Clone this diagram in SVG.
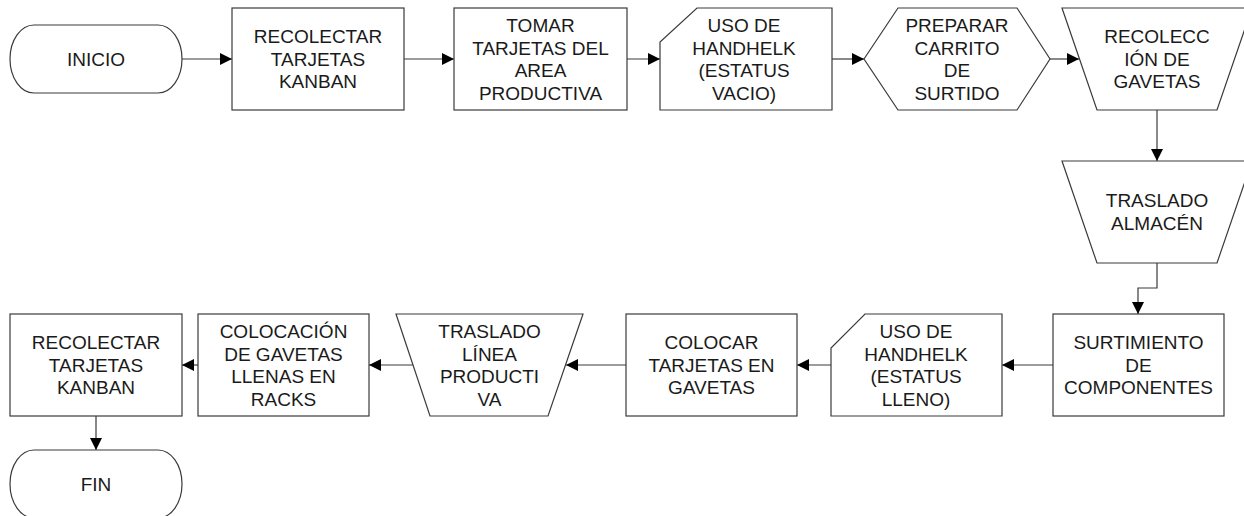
<svg xmlns="http://www.w3.org/2000/svg" width="1244" height="516" viewBox="0 0 1244 516">
<style>
.s{fill:#ffffff;stroke:#3a3a3a;stroke-width:1.2}
.c{fill:none;stroke:#3a3a3a;stroke-width:1.2}
.t{font-family:"Liberation Sans",Arial,sans-serif;font-size:19px;fill:#1a1a1a;text-anchor:middle}
</style>
<defs>
<marker id="ah" markerUnits="userSpaceOnUse" markerWidth="12" markerHeight="12" refX="12" refY="6" orient="auto">
<path d="M0,0 L12,6 L0,12 z" fill="#000"/>
</marker>
</defs>
<rect width="1244" height="516" fill="#ffffff"/>
<g id="connectors">
<path class="c" marker-end="url(#ah)" d="M182,59 H232"/>
<path class="c" marker-end="url(#ah)" d="M404,59 H454"/>
<path class="c" marker-end="url(#ah)" d="M627,59 H660"/>
<path class="c" marker-end="url(#ah)" d="M832,59 H864"/>
<path class="c" marker-end="url(#ah)" d="M1050,59 H1079"/>
<path class="c" marker-end="url(#ah)" d="M1157,110 V161"/>
<path class="c" marker-end="url(#ah)" d="M1157,263 V288 H1138 V314"/>
<path class="c" marker-end="url(#ah)" d="M1053,365 H1002"/>
<path class="c" marker-end="url(#ah)" d="M831,365 H797"/>
<path class="c" marker-end="url(#ah)" d="M626,365 H566"/>
<path class="c" marker-end="url(#ah)" d="M413,365 H369"/>
<path class="c" marker-end="url(#ah)" d="M198,365 H182"/>
<path class="c" marker-end="url(#ah)" d="M96,416 V450"/>
</g>
<g id="inicio">
<rect class="s" x="10" y="25" width="172" height="68" rx="24" ry="34"/>
<text class="t"><tspan x="96" y="65.8">INICIO</tspan></text>
</g>
<g id="recolectar1">
<rect class="s" x="232" y="8" width="172" height="102"/>
<text class="t"><tspan x="318" y="43.3">RECOLECTAR</tspan><tspan x="318" y="65.8">TARJETAS</tspan><tspan x="318" y="88.3">KANBAN</tspan></text>
</g>
<g id="tomar">
<rect class="s" x="454" y="8" width="173" height="102"/>
<text class="t"><tspan x="540.5" y="32">TOMAR</tspan><tspan x="540.5" y="54.5">TARJETAS DEL</tspan><tspan x="540.5" y="77">AREA</tspan><tspan x="540.5" y="99.5">PRODUCTIVA</tspan></text>
</g>
<g id="uso-vacio">
<path class="s" d="M697,8 H832 V110 H660 V42 Z"/>
<text class="t"><tspan x="744" y="32">USO DE</tspan><tspan x="744" y="54.5">HANDHELK</tspan><tspan x="744" y="77">(ESTATUS</tspan><tspan x="744" y="99.5">VACIO)</tspan></text>
</g>
<g id="preparar">
<path class="s" d="M864,59 L898,8 H1017 L1050,59 L1017,110 H898 Z"/>
<text class="t"><tspan x="957" y="32">PREPARAR</tspan><tspan x="957" y="54.5">CARRITO</tspan><tspan x="957" y="77">DE</tspan><tspan x="957" y="99.5">SURTIDO</tspan></text>
</g>
<g id="recoleccion">
<path class="s" d="M1062,8 H1252 L1217,110 H1097 Z"/>
<text class="t"><tspan x="1157" y="43.3">RECOLECC</tspan><tspan x="1157" y="65.8">IÓN DE</tspan><tspan x="1157" y="88.3">GAVETAS</tspan></text>
</g>
<g id="traslado-almacen">
<path class="s" d="M1062,161 H1252 L1217,263 H1097 Z"/>
<text class="t"><tspan x="1157" y="207.3">TRASLADO</tspan><tspan x="1157" y="229.8">ALMACÉN</tspan></text>
</g>
<g id="surtimiento">
<rect class="s" x="1053" y="314" width="171" height="102"/>
<text class="t"><tspan x="1138.5" y="349.3">SURTIMIENTO</tspan><tspan x="1138.5" y="371.8">DE</tspan><tspan x="1138.5" y="394.3">COMPONENTES</tspan></text>
</g>
<g id="uso-lleno">
<path class="s" d="M865,314 H1002 V416 H831 V348 Z"/>
<text class="t"><tspan x="916" y="338">USO DE</tspan><tspan x="916" y="360.5">HANDHELK</tspan><tspan x="916" y="383">(ESTATUS</tspan><tspan x="916" y="405.5">LLENO)</tspan></text>
</g>
<g id="colocar">
<rect class="s" x="626" y="314" width="171" height="102"/>
<text class="t"><tspan x="711.5" y="349.3">COLOCAR</tspan><tspan x="711.5" y="371.8">TARJETAS EN</tspan><tspan x="711.5" y="394.3">GAVETAS</tspan></text>
</g>
<g id="traslado-linea">
<path class="s" d="M396,314 H583 L548,416 H430 Z"/>
<text class="t"><tspan x="489.5" y="338">TRASLADO</tspan><tspan x="489.5" y="360.5">LÍNEA</tspan><tspan x="489.5" y="383">PRODUCTI</tspan><tspan x="489.5" y="405.5">VA</tspan></text>
</g>
<g id="colocacion">
<rect class="s" x="198" y="314" width="171" height="102"/>
<text class="t"><tspan x="283.5" y="338">COLOCACIÓN</tspan><tspan x="283.5" y="360.5">DE GAVETAS</tspan><tspan x="283.5" y="383">LLENAS EN</tspan><tspan x="283.5" y="405.5">RACKS</tspan></text>
</g>
<g id="recolectar2">
<rect class="s" x="10" y="314" width="172" height="102"/>
<text class="t"><tspan x="96" y="349.3">RECOLECTAR</tspan><tspan x="96" y="371.8">TARJETAS</tspan><tspan x="96" y="394.3">KANBAN</tspan></text>
</g>
<g id="fin">
<rect class="s" x="10" y="450" width="172" height="68" rx="24" ry="34"/>
<text class="t"><tspan x="96" y="490.5">FIN</tspan></text>
</g>
</svg>
